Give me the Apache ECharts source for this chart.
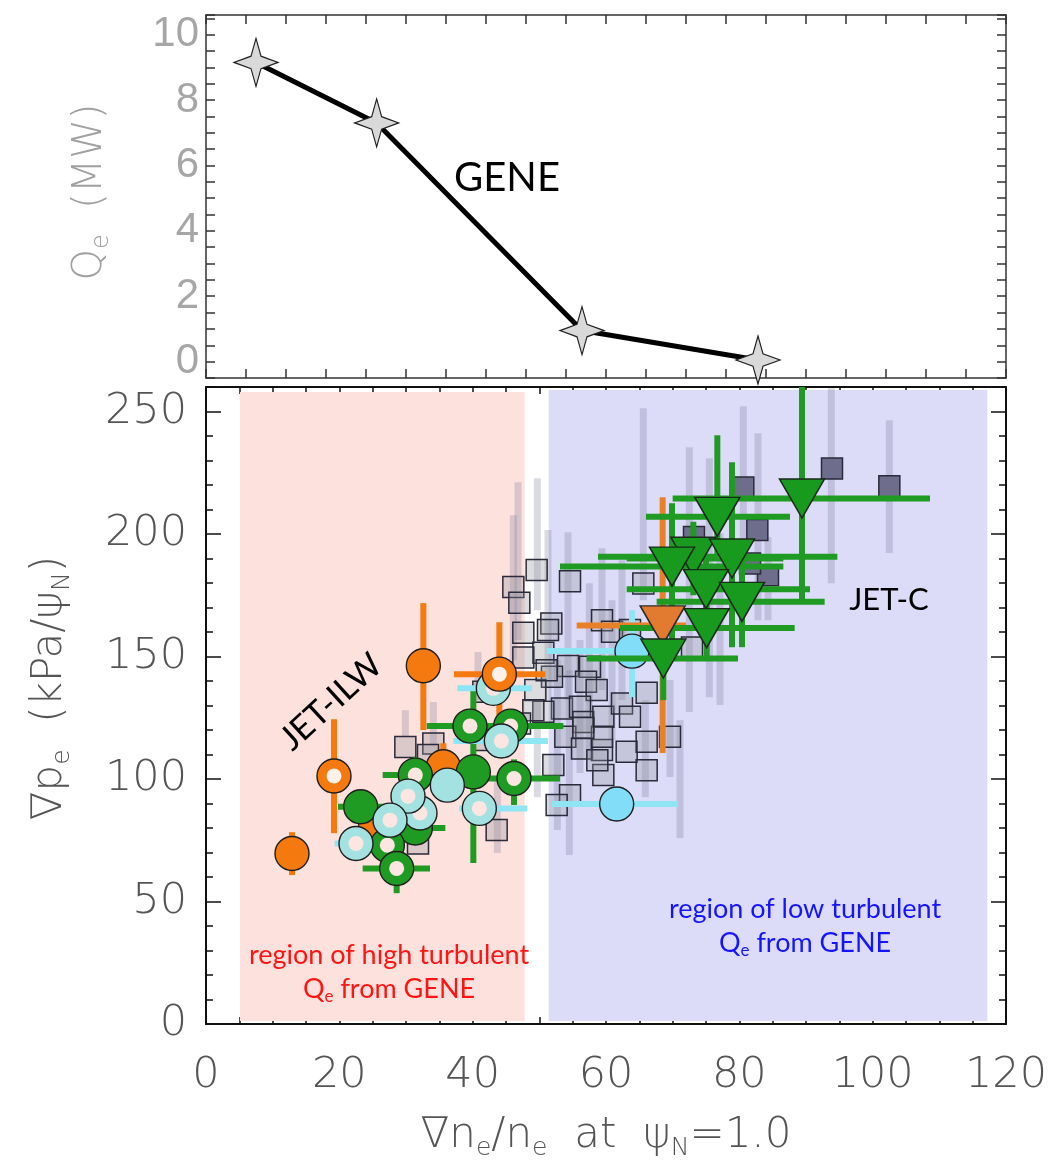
<!DOCTYPE html>
<html><head><meta charset="utf-8">
<script src="https://cdn.jsdelivr.net/npm/echarts@6/dist/echarts.min.js"></script>
<style>html,body{margin:0;padding:0;background:#fff}#c{width:1056px;height:1167px}</style>
</head><body><div id="c"></div>
<script>
// ---------- DATA ----------
// Top panel: GENE Qe (MW) vs grad ne/ne
const geneX = [7.5, 25.6, 56.4, 82.8];
const geneQ = [9.15, 7.3, 0.95, 0.05];

// Bottom panel tick labels
const xTicks = [0, 20, 40, 60, 80, 100, 120];
const yTicks = [0, 50, 100, 150, 200, 250];
const qTicks = [0, 2, 4, 6, 8, 10];

// Light (semi-transparent) squares
const lightSquares = [[49.6,185.3],[46.1,178.4],[47.0,171.9],[54.6,180.7],[65.6,179.8],[51.8,163.5],[47.6,159.7],[51.3,160.8],[59.4,164.8],[60.9,160.1],[63.6,160.8],[50.6,151.5],[47.6,149.6],[54.3,146.1],[57.6,145.8],[57.0,139.7],[58.6,136.3],[66.1,135.2],[51.9,141.7],[49.4,136.3],[53.4,128.8],[56.1,129.5],[56.6,123.3],[59.6,125.4],[62.4,130.8],[63.6,125.4],[50.6,127.4],[53.9,117.2],[56.4,112.5],[59.4,111.8],[59.4,117.2],[63.1,111.1],[66.1,115.2],[66.1,103.6],[69.6,117.2],[59.6,101.6],[52.1,105.7],[54.6,93.4],[52.6,89.4],[43.6,79.2],[49.1,128.1],[29.9,113.1],[34.1,114.5],[33.3,109.8],[31.8,73.7],[47.1,122.7],[51.1,144.4],[56.6,120.8],[58.7,107.7],[41.6,135.6],[41.6,115.9],[72.9,153.7]];
// Dark squares
const darkSquares = [[93.9,226.7],[102.5,219.5],[80.6,219.0],[82.7,201.6],[84.3,183.2],[73.2,198.8],[81.6,188.0]];
// Gray vertical error bars of squares: [x, low, high]
const squareBars = [[46.8,156.7,221.1],[49.7,168.9,222.8],[46.1,148.5,207.7],[51.3,132.2,201.6],[54.3,132.2,200.7],[65.6,173.0,251.3],[80.6,189.3,252.1],[72.5,127.3,235.4],[75.5,133.4,230.9],[77.1,130.2,200.3],[82.8,164.8,241.1],[84.3,164.8,198.7],[93.8,179.9,259.5],[102.5,192.2,246.4],[59.4,136.3,194.2],[57.5,107.7,179.9],[52.7,79.2,148.5],[54.5,69.0,144.4],[56.1,102.4,156.7],[65.9,92.6,132.2],[69.6,100.8,140.4],[71.1,75.9,124.0],[29.9,117.1,128.1],[34.1,113.8,131.4],[40.8,132.2,151.8],[43.7,69.8,99.6],[49.7,92.6,132.2],[62.4,132.2,189.3],[60.9,115.9,173.0]];

// Circles (JET-ILW). Errors: [xlo, xhi, ylo, yhi]
const orangeFilled = [[12.9,69.6],[32.6,146.2],[35.6,105.0],[25.4,80.0]];
const orangeFilledErr = [[null,null,60.8,78.3],[null,null,120.0,171.8],[null,null,98.0,114.6],[null,null,null,null]];
const greenFilled = [[23.2,88.7],[40.1,102.9],[31.4,80.0]];
const greenFilledErr = [[19.8,27.0,null,null],[null,null,65.7,137.1],[28.0,35.9,null,null]];
const greenRing = [[39.6,121.6],[45.7,121.6],[31.4,101.6],[46.2,100.2],[27.2,73.0],[28.6,63.5]];
const greenRingErr = [[33.1,45.0,null,null],[41.0,53.6,null,null],[26.5,36.0,95.0,109.0],[41.0,53.1,89.4,108.0],[null,null,null,null],[23.5,33.6,53.4,72.0]];
const cyanRing = [[32.1,86.1],[30.3,93.0],[27.6,83.2],[22.5,73.7],[41.0,88.0],[44.3,115.5],[43.1,137.0]];
const cyanRingErr = [[null,null,null,null],[null,null,null,null],[null,null,null,null],[19.3,25.0,null,null],[38.0,48.2,null,null],[37.1,51.3,null,null],[37.7,48.9,null,null]];
const cyanSolid = [[36.2,97.5]];
const orangeRing = [[19.2,101.2],[44.0,142.8]];
const orangeRingErr = [[null,null,77.9,124.4],[37.2,50.9,126.1,164.0]];
const lightBlue = [[63.9,152.2],[61.6,89.8]];
const lightBlueErr = [[51.1,71.0,133.4,168.9],[51.9,70.8,null,null]];

// Triangles (JET-C)
const orangeTriangles = [[68.5,162.7]];
const orangeTriangleErr = [[55.6,72.0,110.6,215.0]];
const greenTriangles = [[89.4,214.5],[76.7,207.0],[73.1,190.7],[78.9,190.0],[69.9,186.7],[75.0,177.5],[80.4,172.3],[75.1,161.6],[68.6,149.2]];
const greenTriangleErr = [[70.0,108.6,171.8,260],[66.0,87.6,190,240.3],[58.8,94.7,175,205],[63.1,86.6,153.8,229.3],[53.1,86.6,153.8,212.6],[63.1,90.6,165,190],[67.6,92.8,153.8,189],[62.1,88.3,148.5,175],[57.1,79.8,132.2,164.8]];

// Shaded regions [x0, y0, x1, y1]
const highRegion = [5.1, 1.2, 47.8, 258];
const lowRegion = [51.4, 1.2, 117.2, 258.8];

// ---------- STYLE / HELPERS ----------
const TFONT = 'DejaVu Sans';
const AFONT = 'Lato';
const ORANGE = '#f47a10', GREEN = '#1f9a22', CYAN_BAR = '#8ee6f4';
const STAR = 'path://M0,-100 L17,-26 L75,0 L17,26 L0,100 L-17,26 L-75,0 L-17,-26 Z';

function errSeries(points, errs, color, width, z) {
  return {
    type: 'custom', xAxisIndex: 2, yAxisIndex: 2, z: z, silent: true, clip: true,
    data: points.map(p => [p[0], p[1]]),
    renderItem: function (params, api) {
      const p = points[params.dataIndex], e = errs[params.dataIndex];
      const kids = [];
      if (e[0] != null) {
        const a = api.coord([e[0], p[1]]), b = api.coord([e[1], p[1]]);
        kids.push({type: 'line', shape: {x1: a[0], y1: a[1], x2: b[0], y2: b[1]}, style: {stroke: color, lineWidth: width}});
      }
      if (e[2] != null) {
        const a = api.coord([p[0], e[2]]), b = api.coord([p[0], e[3]]);
        kids.push({type: 'line', shape: {x1: a[0], y1: a[1], x2: b[0], y2: b[1]}, style: {stroke: color, lineWidth: width}});
      }
      return {type: 'group', children: kids};
    }
  };
}
function circleSeries(points, fill, inner, z) {
  return {
    type: 'custom', xAxisIndex: 2, yAxisIndex: 2, z: z, silent: true,
    data: points.map(p => [p[0], p[1]]),
    renderItem: function (params, api) {
      const c = api.coord(points[params.dataIndex]);
      const kids = [{type: 'circle', shape: {cx: c[0], cy: c[1], r: 17}, style: {fill: fill, stroke: '#1e1e1e', lineWidth: 1.4}}];
      if (inner) kids.push({type: 'circle', shape: {cx: c[0], cy: c[1], r: 7.5}, style: {fill: inner}});
      return {type: 'group', children: kids};
    }
  };
}
const noSplit = {splitLine: {show: false}, minorSplitLine: {show: false}};
function frameAxis(extra) {
  return Object.assign({type: 'value', axisLine: {show: true, onZero: false, lineStyle: {color: '#111', width: 2}},
    axisTick: {show: true, inside: true, length: 7, lineStyle: {color: '#111', width: 1.5}},
    axisLabel: {show: false}}, noSplit, extra);
}
const grey = {color: '#333', width: 1.5};

const option = {
  animation: false,
  backgroundColor: '#ffffff',
  grid: [
    {left: 206, width: 800, top: 15, height: 363},
    {left: 206, width: 800, top: 387, height: 637},
    {left: 206, width: 800, top: 387, height: 637}
  ],
  xAxis: [
    frameAxis({gridIndex: 0, min: 0, max: 120, interval: 24, position: 'bottom', axisLine: {show: true, onZero: false, lineStyle: grey},
      axisTick: {show: true, inside: true, length: 9, lineStyle: grey}, minorTick: {show: true, splitNumber: 4, length: 9, lineStyle: grey}}),
    frameAxis({gridIndex: 0, min: 0, max: 120, interval: 24, position: 'top', axisLine: {show: true, onZero: false, lineStyle: grey},
      axisTick: {show: true, inside: true, length: 9, lineStyle: grey}, minorTick: {show: true, splitNumber: 4, length: 9, lineStyle: grey}}),
    frameAxis({gridIndex: 1, min: 0, max: 120, interval: 20, position: 'bottom',
      axisTick: {show: true, inside: true, length: 14, lineStyle: {color: '#111', width: 1.5}},
      minorTick: {show: true, splitNumber: 4, length: 7, lineStyle: {color: '#111', width: 1.5}},
      axisLabel: {show: true, margin: 30, fontSize: 43, fontFamily: TFONT, fontWeight: 200, color: '#555',
        formatter: v => xTicks.indexOf(v) >= 0 ? String(v) : ''}}),
    frameAxis({gridIndex: 1, min: 0, max: 120, interval: 20, position: 'top',
      axisTick: {show: true, inside: true, length: 14, lineStyle: {color: '#111', width: 1.5}},
      minorTick: {show: true, splitNumber: 4, length: 7, lineStyle: {color: '#111', width: 1.5}}}),
    Object.assign({type: 'value', gridIndex: 2, min: 0, max: 120, show: false}, noSplit)
  ],
  yAxis: [
    frameAxis({gridIndex: 0, min: -0.5, max: 10.6, interval: 0.5, position: 'left', axisLine: {show: true, onZero: false, lineStyle: grey},
      axisTick: {show: true, inside: true, length: 9, lineStyle: grey},
      axisLabel: {show: true, margin: 7, fontSize: 42, fontFamily: 'Liberation Sans', color: '#a6a6a6',
        formatter: v => { const r = Math.round(v); return (Math.abs(v - r) < 1e-6 && qTicks.indexOf(r) >= 0) ? String(r) : ''; }}}),
    frameAxis({gridIndex: 0, min: -0.5, max: 10.6, interval: 0.5, position: 'right', axisLine: {show: true, onZero: false, lineStyle: grey},
      axisTick: {show: true, inside: true, length: 9, lineStyle: grey}}),
    frameAxis({gridIndex: 1, min: 0, max: 260, interval: 10, position: 'left'}),
    frameAxis({gridIndex: 1, min: 0, max: 260, interval: 10, position: 'right'}),
    frameAxis({gridIndex: 2, min: 0, max: 260, interval: 50, position: 'left', axisLine: {show: false, onZero: false},
      axisTick: {show: true, inside: true, length: 15, lineStyle: {color: '#111', width: 1.5}},
      axisLabel: {show: true, margin: 19, fontSize: 43, fontFamily: TFONT, fontWeight: 200, color: '#555',
        formatter: v => yTicks.indexOf(v) >= 0 ? String(v) : ''}}),
    frameAxis({gridIndex: 2, min: 0, max: 260, interval: 50, position: 'right', axisLine: {show: false, onZero: false},
      axisTick: {show: true, inside: true, length: 15, lineStyle: {color: '#111', width: 1.5}}})
  ],
  series: [
    {type: 'line', xAxisIndex: 0, yAxisIndex: 0, z: 5, silent: true,
      data: geneX.map((x, i) => [x, geneQ[i]]),
      lineStyle: {color: '#000', width: 5}, symbol: STAR, symbolSize: [44, 48],
      itemStyle: {color: '#d9d9d9', borderColor: '#222', borderWidth: 1.2, opacity: 1}},
    {type: 'scatter', xAxisIndex: 2, yAxisIndex: 2, z: 1, silent: true, data: [], symbolSize: 0,
      markArea: {silent: true, data: [
        [{coord: [highRegion[0], highRegion[1]], itemStyle: {color: '#fde1dd', opacity: 1}}, {coord: [highRegion[2], highRegion[3]]}],
        [{coord: [lowRegion[0], lowRegion[1]], itemStyle: {color: '#dcdcf9', opacity: 1}}, {coord: [lowRegion[2], lowRegion[3]]}]
      ]}},
    {type: 'custom', xAxisIndex: 2, yAxisIndex: 2, z: 2, silent: true, clip: true,
      data: squareBars.map(b => [b[0], b[1]]),
      renderItem: function (params, api) {
        const b = squareBars[params.dataIndex];
        const a = api.coord([b[0], b[1]]), c = api.coord([b[0], b[2]]);
        return {type: 'line', shape: {x1: a[0], y1: a[1], x2: c[0], y2: c[1]}, style: {stroke: 'rgba(120,120,150,0.27)', lineWidth: 7}};
      }},
    {type: 'scatter', xAxisIndex: 2, yAxisIndex: 2, z: 3, silent: true, data: lightSquares,
      symbol: 'rect', symbolSize: 21,
      itemStyle: {color: 'rgba(150,150,160,0.32)', borderColor: '#2a2a3a', borderWidth: 1.5, opacity: 1}},
    {type: 'scatter', xAxisIndex: 2, yAxisIndex: 2, z: 4, silent: true, data: darkSquares,
      symbol: 'rect', symbolSize: 21,
      itemStyle: {color: '#6e6e8c', borderColor: '#2a2a3a', borderWidth: 1.5, opacity: 1}},
    errSeries(greenFilled, greenFilledErr, GREEN, 6, 5),
    errSeries(greenRing, greenRingErr, GREEN, 6, 5),
    errSeries(cyanRing, cyanRingErr, CYAN_BAR, 6, 5),
    errSeries(lightBlue, lightBlueErr, CYAN_BAR, 6, 5),
    errSeries(orangeFilled, orangeFilledErr, ORANGE, 6, 5),
    errSeries(orangeRing, orangeRingErr, ORANGE, 6, 5),
    circleSeries(orangeFilled, ORANGE, null, 6),
    circleSeries(greenFilled, GREEN, null, 6),
    circleSeries(greenRing, GREEN, '#fde6e2', 6),
    circleSeries(cyanRing, '#a3e2e0', '#fde6e2', 6),
    circleSeries(cyanSolid, '#a3e2e0', null, 6),
    circleSeries(orangeRing, ORANGE, '#fff0ea', 6),
    circleSeries(lightBlue, '#82def8', null, 6),
    errSeries(orangeTriangles, orangeTriangleErr, '#e8802a', 6, 7),
    errSeries(greenTriangles, greenTriangleErr, GREEN, 6, 7),
    {type: 'scatter', xAxisIndex: 2, yAxisIndex: 2, z: 8, silent: true, data: orangeTriangles,
      symbol: 'triangle', symbolRotate: 180, symbolSize: [45, 39],
      itemStyle: {color: '#e27a30', borderColor: '#2a2a2a', borderWidth: 1.5, opacity: 1}},
    {type: 'scatter', xAxisIndex: 2, yAxisIndex: 2, z: 8, silent: true, data: greenTriangles,
      symbol: 'triangle', symbolRotate: 180, symbolSize: [45, 39],
      itemStyle: {color: '#179a1e', borderColor: '#1a2a1a', borderWidth: 1.5, opacity: 1}}
  ],
  graphic: [
    {type: 'text', x: 91, y: 192, rotation: Math.PI / 2, z: 20,
      style: {text: 'Q{s|e}  (MW)', fill: '#a0a0a0', fontSize: 40, fontFamily: TFONT, fontWeight: 200, align: 'center', verticalAlign: 'middle',
        rich: {s: {fontSize: 24, fontFamily: TFONT, fontWeight: 200, fill: '#a0a0a0', padding: [22, 0, 0, 0]}}}},
    {type: 'text', x: 50, y: 688, rotation: Math.PI / 2, z: 20,
      style: {text: '∇p{s|e}  (kPa/ψ{s|N})', fill: '#555', fontSize: 42, fontFamily: TFONT, fontWeight: 200, align: 'center', verticalAlign: 'middle',
        rich: {s: {fontSize: 25, fontFamily: TFONT, fontWeight: 200, fill: '#555', padding: [24, 0, 0, 0]}}}},
    {type: 'text', x: 606, y: 1136, z: 20,
      style: {text: '∇n{s|e}/n{s|e}  at  ψ{s|N}=1.0', fill: '#555', fontSize: 42, fontFamily: TFONT, fontWeight: 200, align: 'center', verticalAlign: 'middle',
        rich: {s: {fontSize: 25, fontFamily: TFONT, fontWeight: 200, fill: '#555', padding: [24, 0, 0, 0]}}}},
    {type: 'text', x: 507, y: 178, z: 20,
      style: {text: 'GENE', fill: '#000', fontSize: 40, fontFamily: AFONT, align: 'center', verticalAlign: 'middle'}},
    {type: 'text', x: 331, y: 702, rotation: 0.74, z: 20,
      style: {text: 'JET-ILW', fill: '#000', fontSize: 34, fontFamily: AFONT, align: 'center', verticalAlign: 'middle'}},
    {type: 'text', x: 889, y: 600, z: 20,
      style: {text: 'JET-C', fill: '#000', fontSize: 31, fontFamily: AFONT, align: 'center', verticalAlign: 'middle'}},
    {type: 'text', x: 389, y: 955, z: 20,
      style: {text: 'region of high turbulent', fill: '#ff1414', fontSize: 27, fontFamily: AFONT, align: 'center', verticalAlign: 'middle'}},
    {type: 'text', x: 389, y: 989, z: 20,
      style: {text: 'Q{s|e} from GENE', fill: '#ff1414', fontSize: 27, fontFamily: AFONT, align: 'center', verticalAlign: 'middle',
        rich: {s: {fontSize: 17, fontFamily: AFONT, fill: '#ff1414', padding: [15, 0, 0, 0]}}}},
    {type: 'text', x: 805, y: 909, z: 20,
      style: {text: 'region of low turbulent', fill: '#1414ff', fontSize: 27, fontFamily: AFONT, align: 'center', verticalAlign: 'middle'}},
    {type: 'text', x: 805, y: 943, z: 20,
      style: {text: 'Q{s|e} from GENE', fill: '#1414ff', fontSize: 27, fontFamily: AFONT, align: 'center', verticalAlign: 'middle',
        rich: {s: {fontSize: 17, fontFamily: AFONT, fill: '#1414ff', padding: [15, 0, 0, 0]}}}}
  ]
};
const chart = echarts.init(document.getElementById('c'));
chart.setOption(option);
</script></body></html>
